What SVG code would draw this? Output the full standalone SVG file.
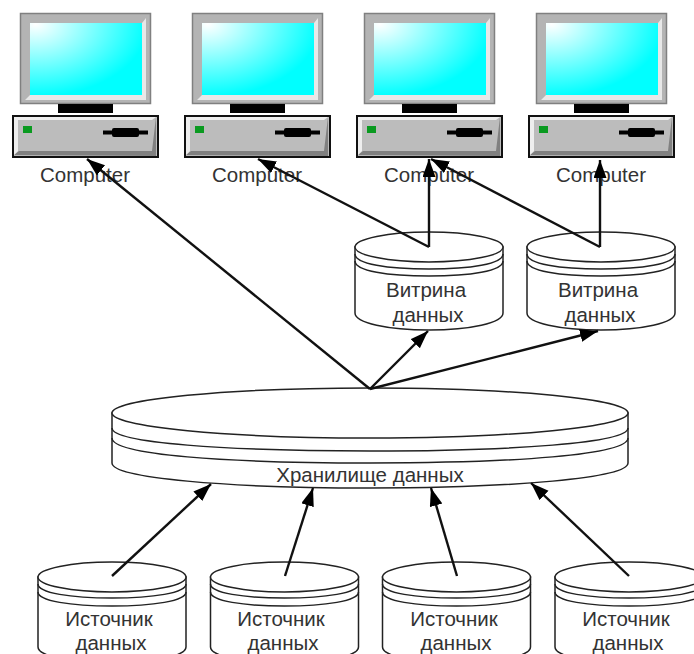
<svg xmlns="http://www.w3.org/2000/svg" xmlns:xlink="http://www.w3.org/1999/xlink" width="694" height="654" viewBox="0 0 694 654">
<style>
.d{fill:#fff;stroke:#222;stroke-width:1.5}
.a{fill:none;stroke:#222;stroke-width:1.5}
.t{font-family:"Liberation Sans",Arial,sans-serif;font-size:20.5px;fill:#333;text-anchor:middle}
.c{fill:none;stroke:#111;stroke-width:2.4;marker-end:url(#h)}
</style>
<defs>
<marker id="h" markerUnits="userSpaceOnUse" markerWidth="20" markerHeight="14" refX="18" refY="6.500" orient="auto"><path d="M0 0L18 6.500L0 13Z" fill="#000"/></marker>
<radialGradient id="s" gradientUnits="objectBoundingBox" cx="0.05" cy="0.02" r="1"><stop offset="0" stop-color="#fff"/><stop offset="1" stop-color="#0ff"/></radialGradient>
<g id="pc">
<rect x="20.500" y="13.500" width="130" height="90" fill="#b4b4b4" stroke="#808080" stroke-width="1.500"/>
<path d="M30 23H142V95H30Z" fill="url(#s)"/>
<path d="M30 95L142 95L142 23L146 18V100H25Z" fill="#e8e8e8"/>
<rect x="58" y="104" width="55" height="9" fill="#000"/>
<rect x="13" y="116" width="145" height="41" fill="#bcbcbc" stroke="#111" stroke-width="2"/>
<path d="M14 155L19 151H152L156 117V156Z" fill="#808080"/>
<path d="M14 117H156L152 120H18L18 151L14 155Z" fill="#eee"/>
<rect x="23" y="126" width="9" height="7" fill="#0a9a20"/>
<rect x="103" y="130.500" width="45" height="4" fill="#000"/>
<rect x="112" y="128" width="27" height="9" rx="2" fill="#000"/>
</g>
<g id="dm">
<path class="d" d="M355 247V313C355 323 388 330 429 330C470 330 503 323 503 313V247Z"/>
<ellipse class="d" cx="429" cy="247" rx="74" ry="15"/>
<path class="a" d="M355 254C355 264 388 269 429 269C470 269 503 264 503 254"/>
<path class="a" d="M355 261C355 271 388 276 429 276C470 276 503 271 503 261"/>
</g>
<g id="ds">
<path class="d" d="M38 577V647C38 656 71 663 112 663C153 663 186 656 186 647V577Z"/>
<ellipse class="d" cx="112" cy="577" rx="74" ry="15"/>
<path class="a" d="M38 584C38 593 71 598 112 598C153 598 186 593 186 584"/>
<path class="a" d="M38 592C38 601 71 606 112 606C153 606 186 601 186 592"/>
</g>
</defs>
<rect width="694" height="654" fill="#fff"/>
<g id="computer-1"><use href="#pc"/><text class="t" x="85" y="182">Computer</text></g>
<g id="computer-2"><use href="#pc" x="172"/><text class="t" x="257" y="182">Computer</text></g>
<g id="computer-3"><use href="#pc" x="344"/><text class="t" x="429" y="182">Computer</text></g>
<g id="computer-4"><use href="#pc" x="516"/><text class="t" x="601" y="182">Computer</text></g>
<g id="mart-1"><use href="#dm"/><text class="t" x="426" y="297">Витрина</text><text class="t" x="428" y="322">данных</text></g>
<g id="mart-2"><use href="#dm" x="172"/><text class="t" x="598" y="297">Витрина</text><text class="t" x="600" y="322">данных</text></g>
<g id="warehouse">
<path class="d" d="M112 413V463C112 478 227 488 370 488C513 488 628 478 628 463V413Z"/>
<ellipse class="d" cx="370" cy="413" rx="258" ry="25"/>
<path class="a" d="M112 428C112 443 227 451 370 451C513 451 628 443 628 428"/>
<path class="a" d="M112 438C112 455 227 463 370 463C513 463 628 455 628 438"/>
<text class="t" x="370" y="482">Хранилище данных</text>
</g>
<g id="source-1"><use href="#ds"/><text class="t" x="109" y="626">Источник</text><text class="t" x="111" y="650">данных</text></g>
<g id="source-2"><use href="#ds" x="172.500"/><text class="t" x="281" y="626">Источник</text><text class="t" x="283" y="650">данных</text></g>
<g id="source-3"><use href="#ds" x="344.500"/><text class="t" x="454" y="626">Источник</text><text class="t" x="456" y="650">данных</text></g>
<g id="source-4"><use href="#ds" x="517"/><text class="t" x="626" y="626">Источник</text><text class="t" x="628" y="650">данных</text></g>
<g id="connectors">
<path class="c" d="M370 389L87 159"/>
<path class="c" d="M429 247L258 159"/>
<path class="c" d="M429 247V159"/>
<path class="c" d="M600 247L431 159"/>
<path class="c" d="M600 247V160"/>
<path class="c" d="M370 389L428 331"/>
<path class="c" d="M370 389L598 331"/>
<path class="c" d="M112 576L211 484"/>
<path class="c" d="M285 576L313 488"/>
<path class="c" d="M457 576L431 488"/>
<path class="c" d="M629 576L531 483"/>
</g>
</svg>
